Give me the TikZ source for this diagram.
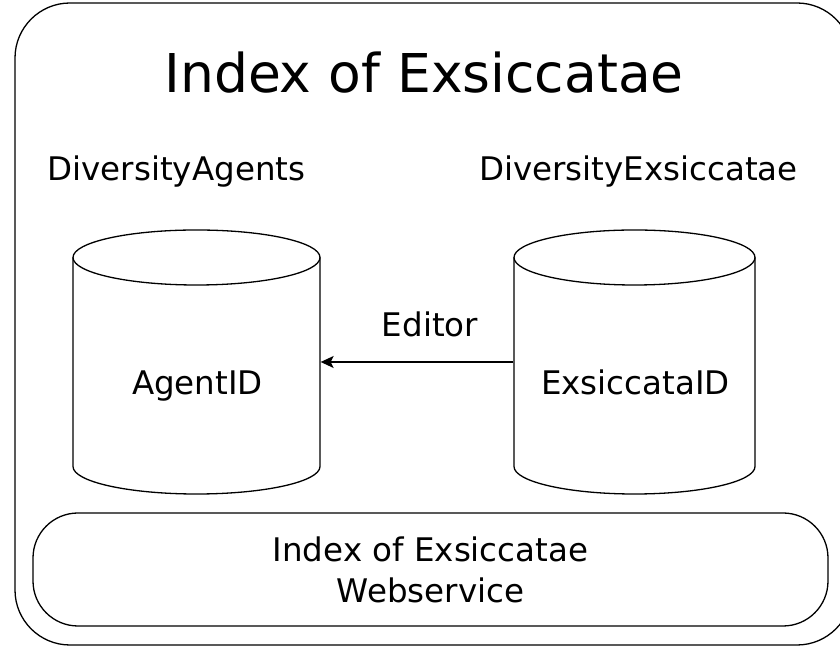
\documentclass[tikz,border=0pt]{standalone}
\usepackage{fontspec}
\setmainfont{DejaVu Sans}
\usetikzlibrary{arrows.meta}
\begin{document}
\begin{tikzpicture}[x=1pt,y=1pt,
  line width=1.3pt,
  lbl/.style={font=\fontsize{32.5}{41}\selectfont, inner sep=0pt, anchor=base},
  dbbody/.style={draw=none, minimum width=247pt, minimum height=263pt, inner sep=0pt},
  rbox/.style={draw, rectangle, inner sep=0pt}
]
\useasboundingbox (0,0) rectangle (840,655);
% outer frame
\node[rbox, rounded corners=55pt, minimum width=837pt, minimum height=642pt] (outer) at (433.5,331) {};
% title
\node[lbl, font=\fontsize{53.5}{65}\selectfont] (title) at (424,562) {Index of Exsiccatae};
% group labels
\node[lbl] (lagents) at (176.5,474) {DiversityAgents};
\node[lbl] (lexs) at (638.5,474) {DiversityExsiccatae};
% left cylinder
\draw (73,397.5) -- (73,188.5) arc[start angle=180,end angle=360,x radius=123.5,y radius=27.5] -- (320,397.5);
\draw (196.5,397.5) ellipse[x radius=123.5,y radius=27.5];
\node[dbbody] (agents) at (196.5,293) {};
% right cylinder
\draw (514,397.5) -- (514,188.5) arc[start angle=180,end angle=360,x radius=120.5,y radius=27.5] -- (755,397.5);
\draw (634.5,397.5) ellipse[x radius=120.5,y radius=27.5];
\node[dbbody, minimum width=241pt] (exs) at (634.5,293) {};
% labels in cylinders
\node[lbl] (agentid) at (197.5,260) {AgentID};
\node[lbl] (exsid) at (635.5,260) {ExsiccataID};
% arrow
\draw[-{Stealth[length=13pt,width=12pt,inset=3pt]}] (exs.west) -- (agents.east);
\node[lbl] (editor) at (430,318) {Editor};
% webservice box
\node[rbox, rounded corners=45pt, minimum width=795pt, minimum height=113pt, align=center,
  font=\fontsize{32.5}{41}\selectfont] (ws) at (430.5,85.5) {Index of Exsiccatae\\Webservice};
\end{tikzpicture}
\end{document}
